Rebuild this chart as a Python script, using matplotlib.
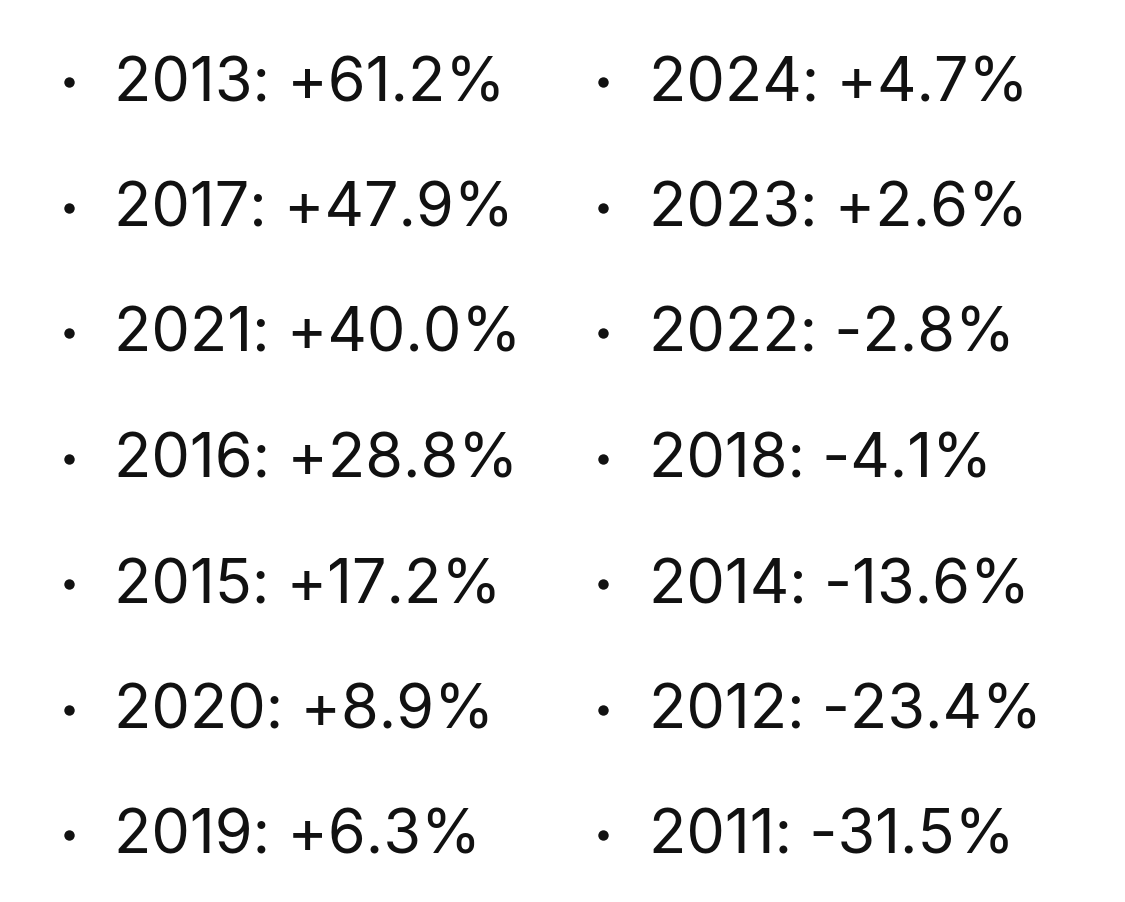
import matplotlib.pyplot as plt

# yearly change, two columns (sorted high to low)
left_years = [2013, 2017, 2021, 2016, 2015, 2020, 2019]
left_changes = [61.2, 47.9, 40.0, 28.8, 17.2, 8.9, 6.3]
right_years = [2024, 2023, 2022, 2018, 2014, 2012, 2011]
right_changes = [4.7, 2.6, -2.8, -4.1, -13.6, -23.4, -31.5]

W, H = 1125, 902
fig = plt.figure(figsize=(W / 100, H / 100), dpi=100)
ax = fig.add_axes([0, 0, 1, 1])
ax.set_xlim(0, W)
ax.set_ylim(H, 0)
ax.axis('off')

TEXT_COLOR = '#111111'
row_gap = 125.5
first_baseline = 101

columns = [
    (69, 114, left_years, left_changes),
    (603, 649, right_years, right_changes),
]

for bullet_x, text_x, years, changes in columns:
    for i, (yr, ch) in enumerate(zip(years, changes)):
        base = first_baseline + i * row_gap
        ax.plot(bullet_x, base - 19, 'o', ms=7.5, color=TEXT_COLOR, mec='none')
        ax.text(text_x, base, f'{yr}: {ch:+.1f}%', fontsize=44,
                family='Inter', color=TEXT_COLOR, va='baseline', ha='left')

fig.savefig('out.png', dpi=100, facecolor='white')
